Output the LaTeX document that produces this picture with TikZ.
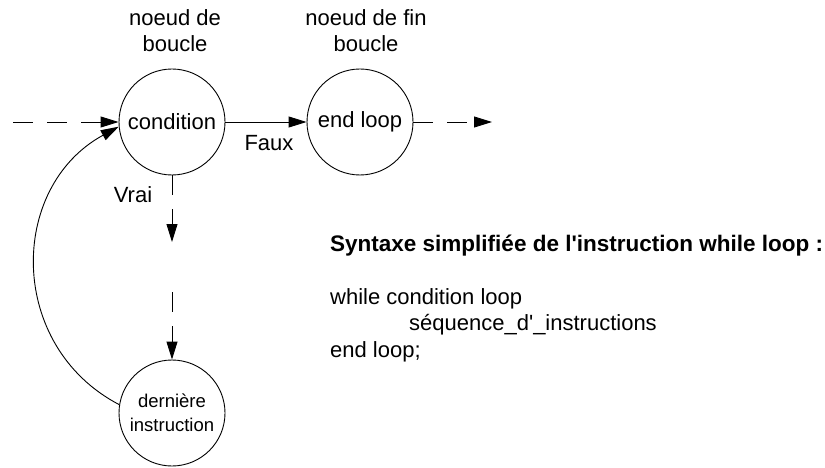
\documentclass[tikz,border=0pt]{standalone}
\usepackage{fontspec}
\setmainfont{Liberation Sans}
\usetikzlibrary{arrows.meta}

\begin{document}
\begin{tikzpicture}[x=1pt, y=-1pt,
	etat/.style={draw, circle, line width=0.9pt, minimum size=106pt, inner sep=0pt, font=\fontsize{22}{26.5}\selectfont},
	fleche/.style={line width=0.9pt, -{Triangle[length=18pt, width=11pt]}},
	tiret/.style={fleche, dash pattern=on 20pt off 14pt},
	texte/.style={font=\fontsize{22}{26.5}\selectfont, inner sep=0pt}]
	
	\useasboundingbox (0, 0) rectangle (825, 468);
	
	% NOEUDS
	\node[etat] (cond) at (172, 122) {condition};
	\node[etat] (fin)  at (360, 122) {end loop};
	\node[etat, font=\fontsize{18.5}{24}\selectfont, align=center] (dern) at (172, 413) {dernière\\instruction};
	
	% LEGENDES
	\node[texte, anchor=base, align=center] (lbcond) at (175, 52) {noeud de\\boucle};
	\node[texte, anchor=base, align=center] (lbfin)  at (366, 52) {noeud de fin\\boucle};
	\node[texte, anchor=base] (faux) at (269, 151) {Faux};
	\node[texte, anchor=base] (vrai) at (133, 203) {Vrai};
	
	% SYNTAXE
	\node[texte, anchor=base west, font=\fontsize{22.5}{26.5}\selectfont\bfseries] (titre) at (330, 251) {Syntaxe simplifiée de l\textquotesingle instruction while loop :};
	\node[texte, anchor=base west, align=left] (code) at (330, 357) {while condition loop\\\hspace*{79pt}séquence\_d\textquotesingle\_instructions\\end loop;};
	
	% FLECHES
	\coordinate (entree) at (13, 122);
	\coordinate (sortie) at (492, 122);
	\coordinate (vrai1)  at (172, 242);
	\coordinate (vrai2)  at (172, 292);
	
	\draw[tiret]  (entree) -- (cond);
	\draw[fleche] (cond) -- (fin);
	\draw[tiret]  (fin) -- (sortie);
	\draw[tiret]  (cond) -- (vrai1);
	\draw[tiret]  (vrai2) -- (dern);
	\draw[fleche] (dern.171) .. controls (7, 346) and (8, 187) .. (cond.185);
	
\end{tikzpicture}
\end{document}
